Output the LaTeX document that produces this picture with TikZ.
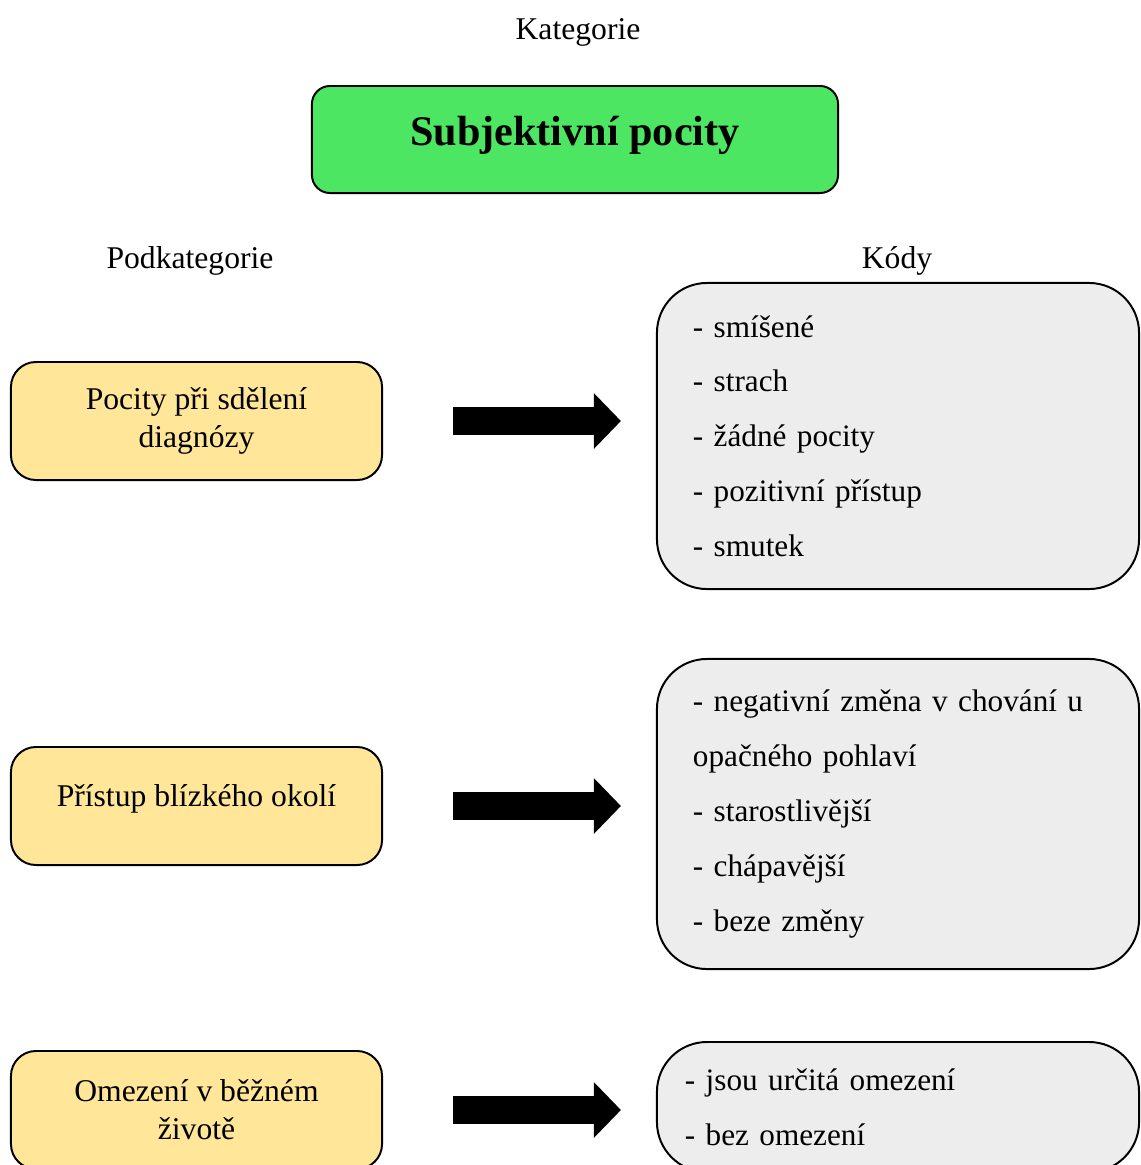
\documentclass[tikz,border=0pt]{standalone}
\usepackage{fontspec}
\setmainfont{Liberation Serif}
\usetikzlibrary{arrows.meta, positioning}
\definecolor{zelena}{RGB}{77,230,99}
\definecolor{zluta}{RGB}{255,230,153}
\definecolor{seda}{RGB}{237,237,237}

\begin{document}
\begin{tikzpicture}[x=0.025cm, y=-0.025cm,
        popis/.style={font=\fontsize{22.5}{27}\selectfont},
        katbox/.style={draw, line width=1.4pt, rounded corners=0.45cm, fill=zelena,
            minimum width=13.15cm, minimum height=2.675cm, text depth=0.43cm,
            font=\fontsize{30}{36}\selectfont\bfseries},
        podbox/.style={draw, line width=1.4pt, rounded corners=0.625cm, fill=zluta, align=center,
            minimum width=9.275cm, minimum height=2.95cm, font=\fontsize{22.5}{26.9}\selectfont},
        kodbox/.style={draw, line width=1.4pt, rounded corners=1.25cm, fill=seda, align=left,
            inner xsep=0.9cm, text width=10.25cm, font=\fontsize{22.2}{39}\selectfont},
        blokova/.style={line width=0.7cm, -{Triangle[length=0.675cm, width=1.35cm]},
            shorten <=1.75cm, shorten >=0.875cm}
    ]
    \useasboundingbox (0,0) rectangle (1141,1165);
    \clip (0,0) rectangle (1141,1165);

    \node[popis] (kat) at (578,32) {Kategorie};
    \node[katbox] (subj) at (575,139.5) {Subjektivní pocity};

    \node[popis] (podkat) at (190,261) {Podkategorie};
    \node[popis] (kody) at (897,261) {Kódy};

    % podkategorie
    \node[podbox] (pd1) at (196.5,421) {Pocity při sdělení\\diagnózy};
    \node[podbox, text depth=0.52cm] (pd2) at (196.5,806) {Přístup blízkého okolí};
    \node[podbox] (pd3) at (196.5,1110) {Omezení v běžném\\životě};

    % kody
    \node[kodbox, minimum height=7.65cm] (kd1) at (898,436)
        {- smíšené\\- strach\\- žádné pocity\\- pozitivní přístup\\- smutek};
    \node[kodbox, minimum height=7.75cm] (kd2) at (898,814)
        {- negativní změna v chování u\\opačného pohlaví\\- starostlivější\\- chápavější\\- beze změny};
    \node[kodbox, minimum height=3.25cm, inner xsep=0.7cm, text width=10.65cm] (kd3) at (898,1107)
        {- jsou určitá omezení\\- bez omezení};

    \draw[blokova] (pd1.east) -- (pd1.east -| kd1.west);
    \draw[blokova] (pd2.east) -- (pd2.east -| kd2.west);
    \draw[blokova] (pd3.east) -- (pd3.east -| kd3.west);
\end{tikzpicture}
\end{document}
